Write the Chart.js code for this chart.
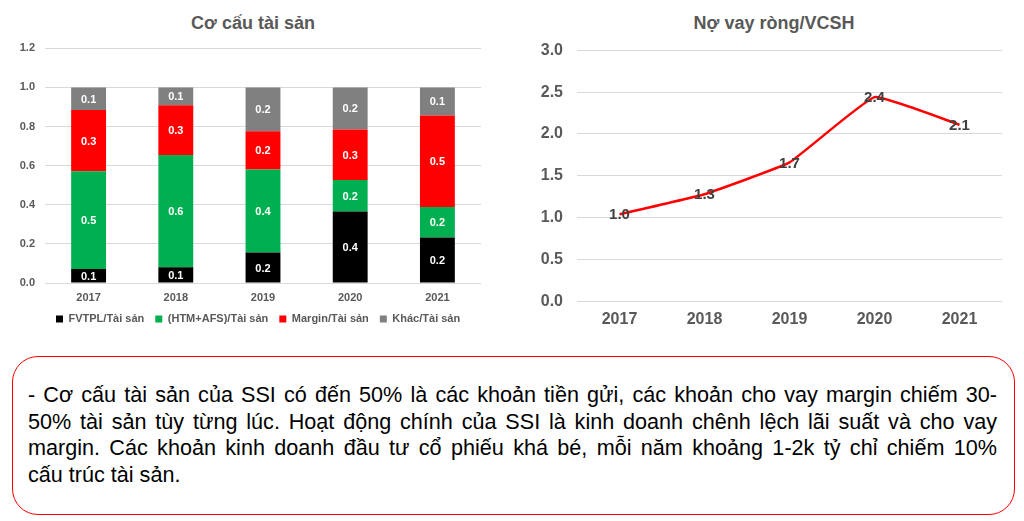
<!DOCTYPE html>
<html>
<head>
<meta charset="utf-8">
<script src="https://cdn.jsdelivr.net/npm/chart.js@4.4.1/dist/chart.umd.min.js"></script>
<style>
  html, body { margin: 0; padding: 0; background: #fff; }
  body { width: 1024px; height: 521px; overflow: hidden; position: relative; font-family: "Liberation Sans", Arial, sans-serif; }
  .wrap { position: absolute; }
  .title { position: absolute; top: 12px; height: 22px; line-height: 22px; text-align: center;
           font-size: 18px; font-weight: bold; color: #595959; white-space: nowrap; }
  #note {
    position: absolute; left: 12px; top: 356px; width: 1003px; height: 159px;
    box-sizing: border-box; border: 1.5px solid #ff0000; border-radius: 26px;
    padding: 25px 17px 0 15px; font-size: 21.6px; line-height: 26.7px; color: #000;
  }
  #note .ln { text-align: justify; text-align-last: justify; white-space: nowrap; }
  #note .ln.last { text-align-last: left; }
</style>
</head>
<body>
<div class="title" style="left:0;width:506px">Cơ cấu tài sản</div>
<div class="title" style="left:524px;width:500px">Nợ vay ròng/VCSH</div>
<div class="wrap" style="left:0;top:0;width:500px;height:340px"><canvas id="left"></canvas></div>
<div class="wrap" style="left:500px;top:0;width:524px;height:340px"><canvas id="right"></canvas></div>
<div id="note">
  <div class="ln">- Cơ cấu tài sản của SSI có đến 50% là các khoản tiền gửi, các khoản cho vay margin chiếm 30-</div>
  <div class="ln">50% tài sản tùy từng lúc. Hoạt động chính của SSI là kinh doanh chênh lệch lãi suất và cho vay</div>
  <div class="ln">margin. Các khoản kinh doanh đầu tư cổ phiếu khá bé, mỗi năm khoảng 1-2k tỷ chỉ chiếm 10%</div>
  <div class="ln last">cấu trúc tài sản.</div>
</div>
<script>
// ---- data ----
const years = ['2017', '2018', '2019', '2020', '2021'];
const fvtpl = [0.072, 0.080, 0.156, 0.365, 0.232];
const htmAfs = [0.500, 0.574, 0.424, 0.161, 0.157];
const margin = [0.312, 0.255, 0.196, 0.259, 0.468];
const khac = [0.116, 0.091, 0.224, 0.215, 0.143];
const leftTicks = ['0.0', '0.2', '0.4', '0.6', '0.8', '1.0', '1.2'];
const netDebtEquity = [1.04, 1.28, 1.66, 2.44, 2.11];
const rightTicks = ['0.0', '0.5', '1.0', '1.5', '2.0', '2.5', '3.0'];

const FAM = '"Liberation Sans", Arial, sans-serif';
const AXIS = '#595959';
const GRID = '#D9D9D9';

const barLabels = {
  id: 'barLabels',
  afterDatasetsDraw(chart) {
    const ctx = chart.ctx;
    ctx.save();
    ctx.font = 'bold 11px ' + FAM;
    ctx.fillStyle = '#ffffff';
    ctx.textAlign = 'center';
    ctx.textBaseline = 'middle';
    chart.data.datasets.forEach((ds, i) => {
      chart.getDatasetMeta(i).data.forEach((bar, j) => {
        const p = bar.getProps(['x', 'y', 'base'], true);
        ctx.fillText(ds.data[j].toFixed(1), p.x, (p.y + p.base) / 2 + 1);
      });
    });
    ctx.restore();
  }
};

const lineLabels = {
  id: 'lineLabels',
  afterDatasetsDraw(chart) {
    const ctx = chart.ctx;
    ctx.save();
    ctx.font = 'bold 15px ' + FAM;
    ctx.fillStyle = '#404040';
    ctx.textAlign = 'center';
    ctx.textBaseline = 'middle';
    chart.data.datasets.forEach((ds, i) => {
      chart.getDatasetMeta(i).data.forEach((pt, j) => {
        ctx.fillText(ds.data[j].toFixed(1), pt.x, pt.y + 1);
      });
    });
    ctx.restore();
  }
};

new Chart(document.getElementById('left'), {
  type: 'bar',
  data: {
    labels: years,
    datasets: [
      { label: 'FVTPL/Tài sản', data: fvtpl, backgroundColor: '#000000' },
      { label: '(HTM+AFS)/Tài sản', data: htmAfs, backgroundColor: '#00B050' },
      { label: 'Margin/Tài sản', data: margin, backgroundColor: '#FF0000' },
      { label: 'Khác/Tài sản', data: khac, backgroundColor: '#808080' }
    ]
  },
  options: {
    animation: false,
    responsive: true,
    maintainAspectRatio: false,
    datasets: { bar: { barPercentage: 0.4, categoryPercentage: 1.0 } },
    layout: { padding: { left: 0, right: 19, top: 48.3, bottom: 5.5 } },
    plugins: {
      title: { display: false },
      legend: {
        position: 'bottom',
        fullSize: false,
        align: 'start',
        labels: {
          boxWidth: 7, boxHeight: 7, padding: 11, color: AXIS,
          font: { family: FAM, size: 11, weight: 'bold' }
        }
      },
      tooltip: { enabled: false }
    },
    scales: {
      x: {
        stacked: true,
        grid: { display: false, drawTicks: false },
        border: { display: false },
        ticks: { color: AXIS, font: { family: FAM, size: 11, weight: 'bold' }, padding: 8 },
        afterFit(s) { s.height = 19.5; }
      },
      y: {
        stacked: true, min: 0, max: 1.2,
        grid: { color: GRID, drawTicks: false },
        border: { display: false },
        ticks: {
          stepSize: 0.2, padding: 10, color: AXIS,
          font: { family: FAM, size: 11, weight: 'bold' },
          callback: (v, i) => leftTicks[i]
        },
        afterFit(s) { s.width = 45; }
      }
    }
  },
  plugins: [barLabels]
});

new Chart(document.getElementById('right'), {
  type: 'line',
  data: {
    labels: years,
    datasets: [{
      label: 'Nợ vay ròng/VCSH', data: netDebtEquity,
      borderColor: '#FF0000', borderWidth: 2.5,
      tension: 0.1,
      pointRadius: 0, fill: false
    }]
  },
  options: {
    animation: false,
    responsive: true,
    maintainAspectRatio: false,
    layout: { padding: { left: 0, right: 22, top: 50.3, bottom: 4 } },
    plugins: {
      title: { display: false },
      legend: { display: false },
      tooltip: { enabled: false }
    },
    scales: {
      x: {
        offset: true,
        grid: { display: false, drawTicks: false },
        border: { display: false },
        ticks: { color: AXIS, font: { family: FAM, size: 16, weight: 'bold' }, padding: 9 },
        afterFit(s) { s.height = 34.7; }
      },
      y: {
        min: 0, max: 3,
        grid: { color: GRID, drawTicks: false },
        border: { display: false },
        ticks: {
          stepSize: 0.5, padding: 14, color: AXIS,
          font: { family: FAM, size: 16, weight: 'bold' },
          callback: (v, i) => rightTicks[i]
        },
        afterFit(s) { s.width = 77; }
      }
    }
  },
  plugins: [lineLabels]
});
</script>
</body>
</html>
